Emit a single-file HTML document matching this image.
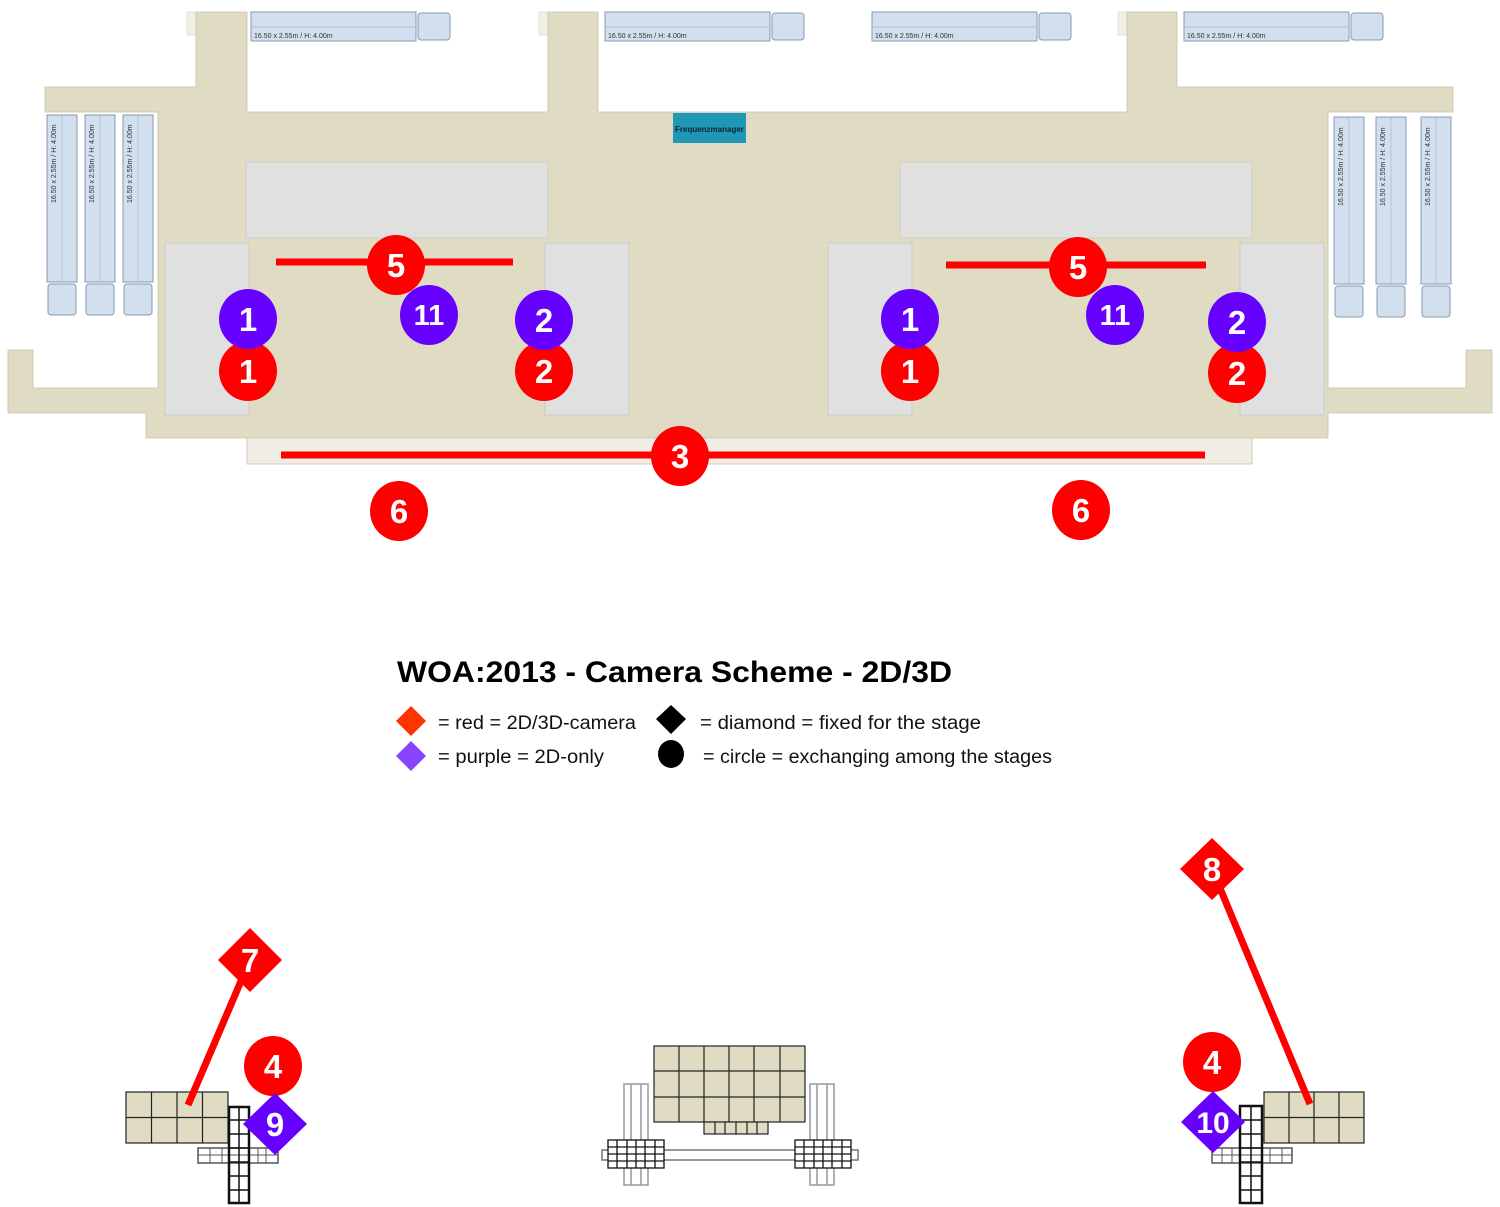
<!DOCTYPE html>
<html><head><meta charset="utf-8"><style>
html,body{margin:0;padding:0;background:#fff;}
svg{display:block;}
.n{font-family:"Liberation Sans",sans-serif;font-weight:bold;fill:#fff;text-anchor:middle;}
.t{font-family:"Liberation Sans",sans-serif;font-size:7px;fill:#333;}
.lg{font-family:"Liberation Sans",sans-serif;font-size:19px;fill:#111;}
</style></head><body>
<svg width="1500" height="1207" viewBox="0 0 1500 1207" xmlns="http://www.w3.org/2000/svg">
<defs>
<g id="truckH">
<rect x="0" y="0" width="165" height="29" fill="#d1dfee" stroke="#8a9ab0" stroke-width="1"/>
<line x1="0" y1="15" x2="165" y2="15" stroke="#aab8c8" stroke-width="0.7"/>
<rect x="167" y="1" width="32" height="27" rx="3" fill="#d1dfee" stroke="#8a9ab0" stroke-width="1"/>
</g>
<g id="truckV">
<rect x="0" y="0" width="30" height="167" fill="#d1dfee" stroke="#8a9ab0" stroke-width="1"/>
<line x1="15" y1="0" x2="15" y2="167" stroke="#aab8c8" stroke-width="0.7"/>
<rect x="1" y="169" width="28" height="31" rx="3" fill="#d1dfee" stroke="#8a9ab0" stroke-width="1"/>
</g>
</defs>
<rect x="187" y="12" width="10" height="23" fill="#f2efe6" stroke="#ccc" stroke-width="0.5"/>
<rect x="539" y="12" width="10" height="23" fill="#f2efe6" stroke="#ccc" stroke-width="0.5"/>
<rect x="1118" y="12" width="10" height="23" fill="#f2efe6" stroke="#ccc" stroke-width="0.5"/>
<polygon fill="#e0dbc3" stroke="#c9c4aa" stroke-width="0.8" points="196,12 247,12 247,112 548,112 548,12 598,12 598,112 1127,112 1127,12 1177,12 1177,87 1453,87 1453,112 1328,112 1328,388 1466,388 1466,350 1492,350 1492,413 1328,413 1328,438 146,438 146,413 8,413 8,350 33,350 33,388 158,388 158,112 45,112 45,87 196,87"/>
<rect x="247" y="438" width="1005" height="26" fill="#f1eee6" stroke="#c9c4aa" stroke-width="0.8"/>
<g fill="#e0e0e0" stroke="#c8c8c8" stroke-width="0.8">
<rect x="246" y="162" width="302" height="76"/>
<rect x="165" y="243" width="84" height="172"/>
<rect x="545" y="243" width="84" height="172"/>
<rect x="900" y="162" width="352" height="76"/>
<rect x="828" y="243" width="84" height="172"/>
<rect x="1240" y="243" width="84" height="172"/>
</g>
<use href="#truckH" x="251" y="12"/><text class="t" x="254" y="38">16.50 x 2.55m / H: 4.00m</text>
<use href="#truckH" x="605" y="12"/><text class="t" x="608" y="38">16.50 x 2.55m / H: 4.00m</text>
<use href="#truckH" x="872" y="12"/><text class="t" x="875" y="38">16.50 x 2.55m / H: 4.00m</text>
<use href="#truckH" x="1184" y="12"/><text class="t" x="1187" y="38">16.50 x 2.55m / H: 4.00m</text>
<use href="#truckV" x="47" y="115"/><text class="t" transform="translate(56,203) rotate(-90)">16.50 x 2.55m / H: 4.00m</text>
<use href="#truckV" x="85" y="115"/><text class="t" transform="translate(94,203) rotate(-90)">16.50 x 2.55m / H: 4.00m</text>
<use href="#truckV" x="123" y="115"/><text class="t" transform="translate(132,203) rotate(-90)">16.50 x 2.55m / H: 4.00m</text>
<use href="#truckV" x="1334" y="117"/><text class="t" transform="translate(1343,206) rotate(-90)">16.50 x 2.55m / H: 4.00m</text>
<use href="#truckV" x="1376" y="117"/><text class="t" transform="translate(1385,206) rotate(-90)">16.50 x 2.55m / H: 4.00m</text>
<use href="#truckV" x="1421" y="117"/><text class="t" transform="translate(1430,206) rotate(-90)">16.50 x 2.55m / H: 4.00m</text>
<rect x="673" y="113" width="73" height="30" fill="#1f97b5"/>
<text x="675" y="132" style="font-family:'Liberation Sans',sans-serif;font-size:8px;font-weight:bold;fill:#123">Frequenzmanager</text>
<g stroke="#ff0000" stroke-width="7">
<line x1="276" y1="262" x2="513" y2="262"/>
<line x1="946" y1="265" x2="1206" y2="265"/>
<line x1="281" y1="455" x2="1205" y2="455"/>
</g>
<g fill="#ff0000">
<ellipse cx="396" cy="265" rx="29" ry="30"/>
<ellipse cx="1078" cy="267" rx="29" ry="30"/>
<ellipse cx="248" cy="371" rx="29" ry="30"/>
<ellipse cx="544" cy="371" rx="29" ry="30"/>
<ellipse cx="910" cy="371" rx="29" ry="30"/>
<ellipse cx="1237" cy="373" rx="29" ry="30"/>
<ellipse cx="680" cy="456" rx="29" ry="30"/>
<ellipse cx="399" cy="511" rx="29" ry="30"/>
<ellipse cx="1081" cy="510" rx="29" ry="30"/>
</g>
<g fill="#6600ff">
<ellipse cx="248" cy="319" rx="29" ry="30"/>
<ellipse cx="429" cy="315" rx="29" ry="30"/>
<ellipse cx="544" cy="320" rx="29" ry="30"/>
<ellipse cx="910" cy="319" rx="29" ry="30"/>
<ellipse cx="1115" cy="315" rx="29" ry="30"/>
<ellipse cx="1237" cy="322" rx="29" ry="30"/>
</g>
<g class="n" font-size="33">
<text x="396" y="277">5</text><text x="1078" y="279">5</text>
<text x="248" y="383">1</text><text x="544" y="383">2</text>
<text x="910" y="383">1</text><text x="1237" y="385">2</text>
<text x="680" y="468">3</text><text x="399" y="523">6</text><text x="1081" y="522">6</text>
<text x="248" y="331">1</text><text x="544" y="332">2</text>
<text x="910" y="331">1</text><text x="1237" y="334">2</text>
</g>
<g class="n" font-size="29">
<text x="429" y="325">11</text><text x="1115" y="325">11</text>
</g>
<text x="397" y="682" textLength="555" lengthAdjust="spacingAndGlyphs" style="font-family:'Liberation Sans',sans-serif;font-weight:bold;font-size:30px;fill:#000">WOA:2013 - Camera Scheme - 2D/3D</text>
<polygon points="411,706 426,721 411,736 396,721" fill="#ff3300"/>
<polygon points="411,741 426,756 411,771 396,756" fill="#8844ff"/>
<polygon points="671,705 686,719 671,734 656,719" fill="#000"/>
<ellipse cx="671" cy="754" rx="13" ry="14" fill="#000"/>
<text class="lg" x="438" y="729" textLength="198" lengthAdjust="spacingAndGlyphs">= red = 2D/3D-camera</text>
<text class="lg" x="438" y="763" textLength="166" lengthAdjust="spacingAndGlyphs">= purple = 2D-only</text>
<text class="lg" x="700" y="729" textLength="281" lengthAdjust="spacingAndGlyphs">= diamond = fixed for the stage</text>
<text class="lg" x="703" y="763" textLength="349" lengthAdjust="spacingAndGlyphs">= circle = exchanging among the stages</text>
<g stroke="#222" stroke-width="1.2" fill="#e0dbc3">
<rect x="126" y="1092" width="102" height="51"/>
<path d="M151.5 1092V1143M177 1092V1143M202.5 1092V1143M126 1117.5H228" fill="none"/>
</g>
<g stroke="#111" fill="none" stroke-width="1.5">
<rect x="198" y="1148" width="80" height="15" stroke="#555"/>
<path d="M198 1155H278M210 1148V1163M222 1148V1163M258 1148V1163M266 1148V1163" stroke="#555" stroke-width="1"/>
<rect x="229" y="1107" width="20" height="96" stroke-width="2.5"/>
<path d="M239 1107V1203M229 1120H249M229 1134H249M229 1148H249M229 1162H249M229 1176H249M229 1190H249"/>
</g>
<g stroke="#222" stroke-width="1.2" fill="#e0dbc3">
<rect x="654" y="1046" width="151" height="76"/>
<rect x="704" y="1122" width="64" height="12"/>
<path d="M679 1046V1122M704 1046V1122M729 1046V1122M754 1046V1122M780 1046V1122M654 1071H805M654 1097H805M715 1122V1134M725 1122V1134M736 1122V1134M747 1122V1134M757 1122V1134" fill="none"/>
</g>
<g stroke="#999" fill="none" stroke-width="1.5">
<rect x="624" y="1084" width="24" height="101"/><rect x="810" y="1084" width="24" height="101"/>
<path d="M631 1084V1185M641 1084V1185M817 1084V1185M827 1084V1185"/>
<rect x="602" y="1150" width="256" height="10" stroke="#777"/>
</g>
<g stroke="#111" stroke-width="1.3" fill="#fff">
<rect x="608" y="1140" width="56" height="28"/><rect x="795" y="1140" width="56" height="28"/>
<path d="M608 1147H664M608 1154H664M608 1161H664M617 1140V1168M627 1140V1168M636 1140V1168M645 1140V1168M655 1140V1168M795 1147H851M795 1154H851M795 1161H851M804 1140V1168M814 1140V1168M823 1140V1168M832 1140V1168M842 1140V1168" fill="none"/>
</g>
<g stroke="#222" stroke-width="1.2" fill="#e0dbc3">
<rect x="1264" y="1092" width="100" height="51"/>
<path d="M1289 1092V1143M1314 1092V1143M1339 1092V1143M1264 1117.5H1364" fill="none"/>
</g>
<g stroke="#111" fill="none" stroke-width="1.5">
<rect x="1212" y="1148" width="80" height="15" stroke="#555"/>
<path d="M1212 1155H1292M1222 1148V1163M1232 1148V1163M1270 1148V1163M1282 1148V1163" stroke="#555" stroke-width="1"/>
<rect x="1240" y="1106" width="22" height="97" stroke-width="2.5"/>
<path d="M1251 1106V1203M1240 1120H1262M1240 1134H1262M1240 1148H1262M1240 1162H1262M1240 1176H1262M1240 1190H1262"/>
</g>
<g stroke="#ff0000" stroke-width="7">
<line x1="250" y1="960" x2="188" y2="1105"/>
<line x1="1212" y1="869" x2="1310" y2="1104"/>
</g>
<ellipse cx="273" cy="1066" rx="29" ry="30" fill="#ff0000"/>
<ellipse cx="1212" cy="1062" rx="29" ry="30" fill="#ff0000"/>
<polygon points="250,928 282,960 250,992 218,960" fill="#ff0000"/>
<polygon points="1212,838 1244,869 1212,900 1180,869" fill="#ff0000"/>
<polygon points="275,1093 307,1124 275,1155 243,1124" fill="#6600ff"/>
<polygon points="1213,1091 1245,1122 1213,1153 1181,1122" fill="#6600ff"/>
<g class="n" font-size="33">
<text x="273" y="1078">4</text><text x="1212" y="1074">4</text>
<text x="250" y="972">7</text><text x="1212" y="881">8</text>
<text x="275" y="1136">9</text>
</g>
<text class="n" font-size="30" x="1213" y="1133">10</text>
</svg>
</body></html>
